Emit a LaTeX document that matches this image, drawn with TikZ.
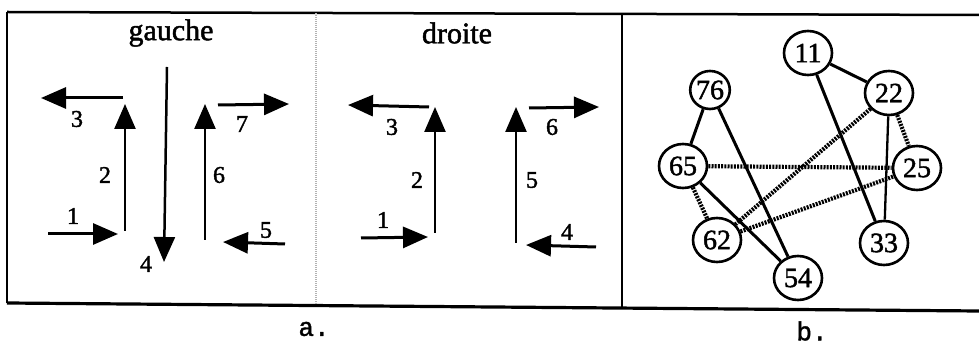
\documentclass[tikz,border=0pt]{standalone}
\usepackage{fontspec}
\setmainfont{Liberation Serif}[BoldFont={Liberation Serif},BoldFeatures={FakeBold=1.6}]
\newfontfamily\capfont{Liberation Mono}[BoldFont={Liberation Mono},BoldFeatures={FakeBold=1.6}]
\usetikzlibrary{arrows.meta,shapes.geometric}
\begin{document}
\begin{tikzpicture}[x=1pt,y=-1pt,
  arr/.style={line width=3pt,-{Triangle[length=25pt,width=21pt]}},
  thinarr/.style={line width=2.5pt},
  lbl/.style={inner sep=0pt,font=\bfseries\fontsize{24}{26}\selectfont},
  ttl/.style={inner sep=0pt,font=\bfseries\fontsize{30}{32}\selectfont},
  captext/.style={inner sep=0pt,font=\capfont\bfseries\fontsize{26}{28}\selectfont},
  gn/.style={draw,ellipse,line width=2.6pt,minimum width=48pt,minimum height=44pt,inner sep=0pt,font=\bfseries\fontsize{28}{30}\selectfont},
  sm/.style={minimum width=39pt,minimum height=38pt},
  sol/.style={line width=3pt},
  hat/.style={line width=4.2pt,dash pattern=on 2pt off 1.2pt}
]
\useasboundingbox (0,0) rectangle (979,344);
% frame
\coordinate (tl) at (7,12);
\coordinate (tr) at (979,15);
\coordinate (bl) at (7,303);
\coordinate (br) at (979,311);
\draw[line width=2.5pt] (tl) -- (tr);
\draw[line width=3.2pt] (bl) -- (br);
\draw[line width=2.5pt] (tl) -- (bl);
\draw[line width=2.2pt,gray!60,dash pattern=on 1pt off 1pt] (316,13) -- (316,305);
\draw[line width=2.5pt] (622,14) -- (622,308);
% captions
\node[captext] (capa) at (314,329) {a.};
\node[captext] (capb) at (812,331) {b.};
% gauche
\node[ttl] (tg) at (171,33) {gauche};
\coordinate (a1s) at (48,234); \coordinate (a1e) at (118,234);
\coordinate (a2s) at (125,231); \coordinate (a2e) at (125,104);
\coordinate (a3s) at (123,98); \coordinate (a3e) at (41,98);
\coordinate (a4s) at (167,67); \coordinate (a4e) at (164,262);
\coordinate (a6s) at (205,240); \coordinate (a6e) at (205,104);
\coordinate (a7s) at (218,105); \coordinate (a7e) at (289,104);
\coordinate (a5s) at (285,244); \coordinate (a5e) at (223,242);
\draw[arr] (a1s) -- (a1e);
\draw[arr,thinarr] (a2s) -- (a2e);
\draw[arr] (a3s) -- (a3e);
\draw[arr,thinarr] (a4s) -- (a4e);
\draw[arr,thinarr] (a6s) -- (a6e);
\draw[arr] (a7s) -- (a7e);
\draw[arr] (a5s) -- (a5e);
\node[lbl] (l1) at (73,216) {1};
\node[lbl] (l2) at (105,175) {2};
\node[lbl] (l3) at (77,119) {3};
\node[lbl] (l4) at (146,264) {4};
\node[lbl] (l6) at (219,175) {6};
\node[lbl] (l7) at (242,124) {7};
\node[lbl] (l5) at (266,230) {5};
% droite
\node[ttl] (td) at (457,33) {droite};
\coordinate (b1s) at (361,238); \coordinate (b1e) at (428,237);
\coordinate (b2s) at (435,233); \coordinate (b2e) at (435,107);
\coordinate (b3s) at (429,107); \coordinate (b3e) at (348,105);
\coordinate (b5s) at (516,243); \coordinate (b5e) at (516,107);
\coordinate (b6s) at (529,108); \coordinate (b6e) at (599,107);
\coordinate (b4s) at (596,247); \coordinate (b4e) at (526,245);
\draw[arr] (b1s) -- (b1e);
\draw[arr,thinarr] (b2s) -- (b2e);
\draw[arr] (b3s) -- (b3e);
\draw[arr,thinarr] (b5s) -- (b5e);
\draw[arr] (b6s) -- (b6e);
\draw[arr] (b4s) -- (b4e);
\node[lbl] (m1) at (383,220) {1};
\node[lbl] (m2) at (417,180) {2};
\node[lbl] (m3) at (392,127) {3};
\node[lbl] (m5) at (532,180) {5};
\node[lbl] (m6) at (552,127) {6};
\node[lbl] (m4) at (567,232) {4};
% graph
\node[gn] (n11) at (808,53) {11};
\node[gn] (n22) at (889,93) {22};
\node[gn,sm] (n76) at (710,90) {76};
\node[gn] (n65) at (683,166) {65};
\node[gn] (n25) at (917,168) {25};
\node[gn] (n62) at (717,240) {62};
\node[gn] (n33) at (884,243) {33};
\node[gn] (n54) at (798,278) {54};
\draw[sol] (n11) -- (n22);
\draw[sol] (n11) -- (n33);
\draw[sol] (n76) -- (n65);
\draw[sol] (n76) -- (n54);
\draw[sol] (n65) -- (n54);
\draw[sol,line width=2.3pt] (n22) -- (n33);
\draw[hat] (n65) -- (n25);
\draw[hat] (n22) -- (n62);
\draw[hat] (n62) -- (n25);
\draw[hat] (n65) -- (n62);
\draw[hat] (n22) -- (n25);
\end{tikzpicture}
\end{document}
